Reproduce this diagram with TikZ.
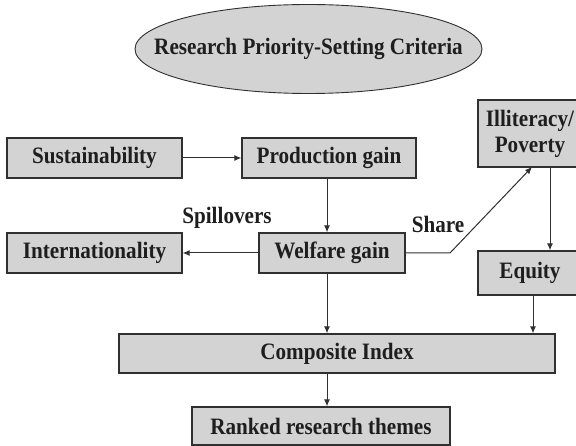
\documentclass[tikz,border=0pt]{standalone}
\usepackage{fontspec}
\setmainfont{Liberation Serif}[FakeStretch=0.9]
\usetikzlibrary{arrows.meta,shapes.geometric}
\definecolor{boxfill}{HTML}{D3D3D3}
\definecolor{boxline}{HTML}{303030}
\definecolor{txt}{HTML}{1E1E1E}
\begin{document}
\begin{tikzpicture}[x=1pt,y=-1pt,
  every node/.style={font=\fontsize{23.5}{26}\selectfont\bfseries, text=txt},
  box/.style={draw=boxline, fill=boxfill, line width=1.4pt, inner sep=0pt, align=center},
  conn/.style={draw=boxline, line width=1pt, -{Latex[length=7pt,width=6pt]}},
  lbl/.style={inner sep=0pt}]
\clip (0,0) rectangle (576,446);
\node[ellipse, draw=boxline, fill=boxfill, line width=0.9pt, minimum width=347pt, minimum height=89pt, inner sep=0pt] (crit) at (308.5,49) {};
\node[lbl] (crittext) at (crit.center) {Research Priority-Setting Criteria};
\node[box, minimum width=175pt, minimum height=40pt] (sust) at (94.5,158) {Sustainability};
\node[box, minimum width=174pt, minimum height=40pt] (prod) at (329,158) {Production gain};
\node[box, minimum width=104pt, minimum height=67pt] (illit) at (530,133.5) {Illiteracy/\\Poverty};
\node[box, minimum width=175pt, minimum height=40pt] (intl) at (94.5,253) {Internationality};
\node[box, minimum width=146pt, minimum height=40pt] (welf) at (332,253) {Welfare gain};
\node[box, minimum width=104pt, minimum height=44pt] (equi) at (530,273) {Equity};
\node[box, minimum width=436pt, minimum height=39pt] (comp) at (337,353.5) {Composite Index};
\node[box, minimum width=258pt, minimum height=38pt] (rank) at (321,426) {Ranked research themes};
\node[lbl] (spill) at (227,218) {Spillovers};
\node[lbl] (share) at (438,224) {Share};
\coordinate (xa) at (327,0);
\coordinate (bend) at (450,253);
\coordinate (shtip) at (532,167);
\coordinate (xe) at (550,0);
\coordinate (xq) at (533,0);
\draw[conn] (sust.east) -- (prod.west);
\draw[conn] (prod.south -| xa) -- (welf.north -| xa);
\draw[conn] (welf.west) -- (intl.east);
\draw[conn] (welf.east) -- (bend) -- (shtip);
\draw[conn] (illit.south -| xe) -- (equi.north -| xe);
\draw[conn] (welf.south -| xa) -- (comp.north -| xa);
\draw[conn] (equi.south -| xq) -- (comp.north -| xq);
\draw[conn] (comp.south -| xa) -- (rank.north -| xa);
\end{tikzpicture}
\end{document}
